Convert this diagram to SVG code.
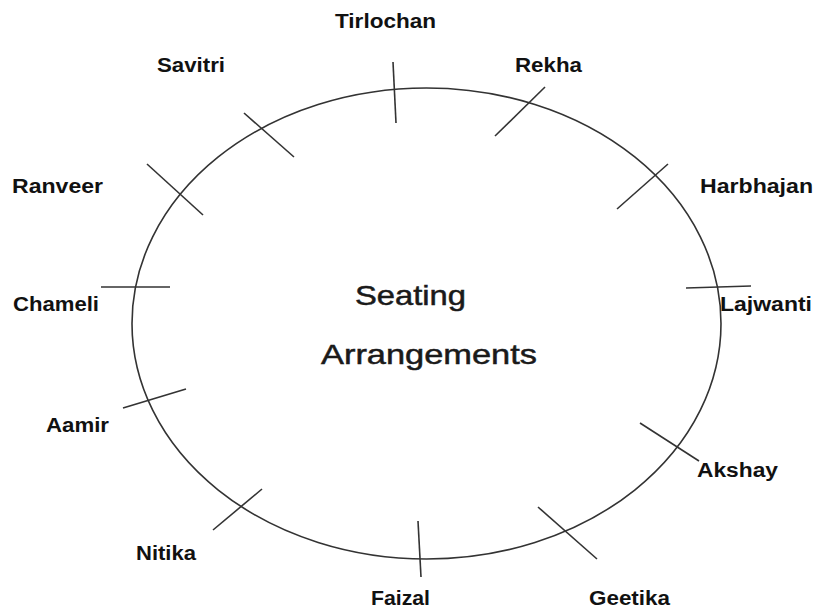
<svg xmlns="http://www.w3.org/2000/svg" width="815" height="611" viewBox="0 0 815 611">
<style>
.lbl{font-family:"Liberation Sans",Arial,sans-serif;font-weight:bold;font-size:20px;fill:#111}
.ttl{font-family:"Liberation Sans",Arial,sans-serif;font-size:28px;fill:#1a1a1a;stroke:#1a1a1a;stroke-width:0.5}
.tick{stroke:#333;stroke-width:1.6;fill:none}
.ring{stroke:#333;stroke-width:1.6;fill:none}
</style>
<rect width="815" height="611" fill="#fff"/>
<g id="table">
<ellipse class="ring" cx="426.5" cy="323.5" rx="294.5" ry="235.5"/>
<text class="ttl" x="355" y="305" textLength="111" lengthAdjust="spacingAndGlyphs">Seating</text>
<text class="ttl" x="321" y="364" textLength="216" lengthAdjust="spacingAndGlyphs">Arrangements</text>
</g>
<g id="connectors">
<line class="tick" x1="393" y1="62" x2="396" y2="123"/>
<line class="tick" x1="244" y1="113" x2="294" y2="157"/>
<line class="tick" x1="545" y1="87" x2="495" y2="136"/>
<line class="tick" x1="147" y1="164" x2="203" y2="215"/>
<line class="tick" x1="668" y1="164" x2="617" y2="209"/>
<line class="tick" x1="101" y1="287" x2="170" y2="287"/>
<line class="tick" x1="686" y1="288" x2="751" y2="286"/>
<line class="tick" x1="123" y1="408" x2="186" y2="389"/>
<line class="tick" x1="640" y1="423" x2="699" y2="461"/>
<line class="tick" x1="262" y1="489" x2="213" y2="530"/>
<line class="tick" x1="418" y1="521" x2="421" y2="577"/>
<line class="tick" x1="538" y1="507" x2="597" y2="559"/>
</g>
<g id="tirlochan"><text class="lbl" x="335" y="28" textLength="101" lengthAdjust="spacingAndGlyphs">Tirlochan</text></g>
<g id="savitri"><text class="lbl" x="157" y="72" textLength="68" lengthAdjust="spacingAndGlyphs">Savitri</text></g>
<g id="rekha"><text class="lbl" x="515" y="72" textLength="67" lengthAdjust="spacingAndGlyphs">Rekha</text></g>
<g id="ranveer"><text class="lbl" x="12" y="193" textLength="91" lengthAdjust="spacingAndGlyphs">Ranveer</text></g>
<g id="harbhajan"><text class="lbl" x="700" y="193" textLength="113" lengthAdjust="spacingAndGlyphs">Harbhajan</text></g>
<g id="chameli"><text class="lbl" x="13" y="311" textLength="86" lengthAdjust="spacingAndGlyphs">Chameli</text></g>
<g id="lajwanti"><text class="lbl" x="720" y="311" textLength="92" lengthAdjust="spacingAndGlyphs">Lajwanti</text></g>
<g id="aamir"><text class="lbl" x="46" y="432" textLength="63" lengthAdjust="spacingAndGlyphs">Aamir</text></g>
<g id="akshay"><text class="lbl" x="697" y="477" textLength="81" lengthAdjust="spacingAndGlyphs">Akshay</text></g>
<g id="nitika"><text class="lbl" x="136" y="560" textLength="60" lengthAdjust="spacingAndGlyphs">Nitika</text></g>
<g id="faizal"><text class="lbl" x="371" y="605" textLength="59" lengthAdjust="spacingAndGlyphs">Faizal</text></g>
<g id="geetika"><text class="lbl" x="589" y="605" textLength="81" lengthAdjust="spacingAndGlyphs">Geetika</text></g>
</svg>
